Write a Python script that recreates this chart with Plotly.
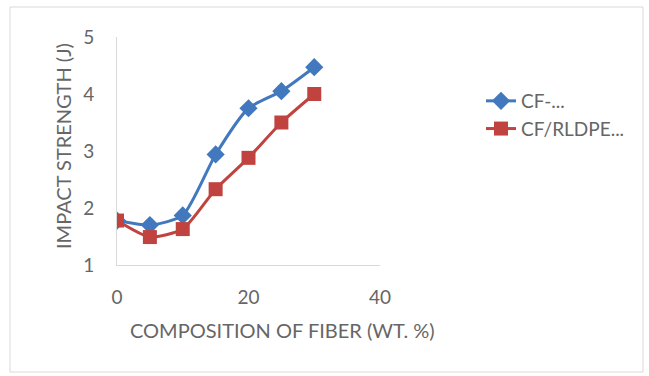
import plotly.graph_objects as go

x_vals = [0, 5, 10, 15, 20, 25, 30]
series_a_name = "CF-..."
series_a = [1.78, 1.70, 1.87, 2.94, 3.75, 4.05, 4.47]
series_b_name = "CF/RLDPE..."
series_b = [1.78, 1.49, 1.63, 2.33, 2.88, 3.50, 4.00]
x_ticks = [0, 20, 40]
y_ticks = [1, 2, 3, 4, 5]

W, H = 649, 376
L, R, T, B = 117, 380, 37, 265
TXT = "#666666"

fig = go.Figure()
fig.add_trace(go.Scatter(x=x_vals, y=series_a, name=series_a_name, mode="lines+markers",
                         line=dict(color="#4178be", width=3, shape="spline", smoothing=0.6),
                         marker=dict(symbol="diamond", size=14, color="#4178be")))
fig.add_trace(go.Scatter(x=x_vals, y=series_b, name=series_b_name, mode="lines+markers",
                         line=dict(color="#c0433f", width=3, shape="spline", smoothing=0.6),
                         marker=dict(symbol="square", size=14, color="#c0433f")))

font = dict(family="Lato, 'Open Sans', sans-serif", color=TXT)
fig.update_layout(
    width=W, height=H,
    margin=dict(l=L, r=W - R, t=T, b=H - B),
    paper_bgcolor="white", plot_bgcolor="white",
    font=font,
    showlegend=True,
    legend=dict(x=(481 - L) / (R - L), y=1 - (82 - T) / (B - T), xanchor="left", yanchor="top",
                font=dict(size=19, color=TXT, family=font["family"]),
                bgcolor="rgba(0,0,0,0)", tracegroupgap=0, itemwidth=30),
    xaxis=dict(range=[0, 40], tickvals=x_ticks, showgrid=False, zeroline=False,
               showline=True, linecolor="#d9d9d9", linewidth=1, ticks="",
               tickfont=dict(size=19, color=TXT), ticklabelstandoff=15),
    yaxis=dict(range=[1, 5], tickvals=y_ticks, showgrid=False, zeroline=False,
               showline=True, linecolor="#d9d9d9", linewidth=1, ticks="",
               tickfont=dict(size=19, color=TXT), ticklabelstandoff=18),
)

def px(xp):
    return (xp - L) / (R - L)

def py(yp):
    return 1 - (yp - T) / (B - T)

fig.add_annotation(text="IMPACT STRENGTH (J)", xref="paper", yref="paper",
                   x=px(63), y=py(146), textangle=-90, showarrow=False,
                   font=dict(size=20, color=TXT), xanchor="center", yanchor="middle")
fig.add_annotation(text="COMPOSITION OF FIBER (WT. %)", xref="paper", yref="paper",
                   x=px(282), y=py(330), showarrow=False,
                   font=dict(size=20, color=TXT), xanchor="center", yanchor="middle")
fig.add_shape(type="rect", xref="paper", yref="paper",
              x0=px(10), x1=px(643), y0=py(372), y1=py(7),
              line=dict(color="#d9d9d9", width=1), layer="below")

fig.write_html("out.html")
